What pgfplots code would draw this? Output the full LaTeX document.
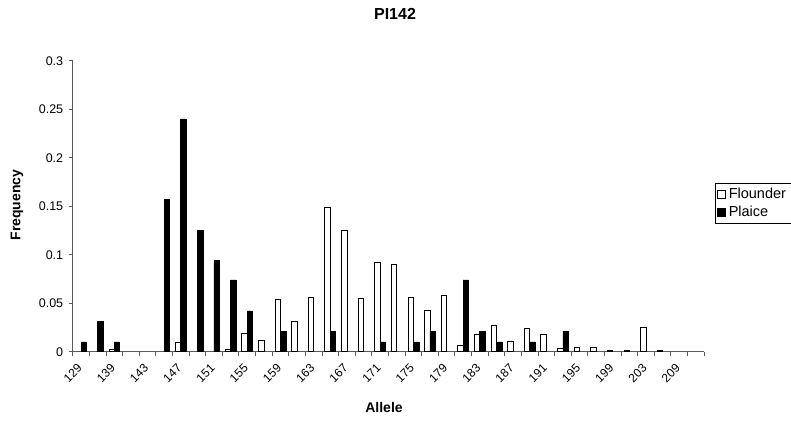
\documentclass[border=0pt]{standalone}
\usepackage{pgfplots}
\pgfplotsset{compat=1.18}
\usepackage{fontspec}
\setmainfont{Liberation Sans}
\begin{document}
\begin{tikzpicture}[x=1pt,y=1pt]
\useasboundingbox (0,0) rectangle (791,422);
\begin{axis}[
  at={(72.7pt,70.3pt)}, anchor=south west,
  scale only axis, width=631.3pt, height=291pt,
  xmin=-0.5, xmax=37.5, ymin=0, ymax=0.3,
  axis x line*=bottom, axis y line*=left,
  axis line style={black!65, line width=0.7pt},
  every tick/.style={black!65, line width=0.7pt},
  tick align=outside, major tick length=4pt, minor tick length=4pt,
  xtick={0,2,...,36},
  xticklabels={129,139,143,147,151,155,159,163,167,171,175,179,183,187,191,195,199,203,209},
  minor xtick={-0.5,0.5,...,37.5},
  major x tick style={draw=none},
  xticklabel style={rotate=45, anchor=north east, yshift=-1pt, xshift=-7pt, inner sep=1pt, font=\fontsize{12}{14}\selectfont},
  ytick={0,0.05,0.1,0.15,0.2,0.25,0.3},
  yticklabels={0,0.05,0.1,0.15,0.2,0.25,0.3},
  yticklabel style={font=\fontsize{12.5}{14}\selectfont, xshift=-2pt},
  /pgf/number format/assume math mode=true,
  ybar, bar width=0.33,
  legend style={at={(1.0174,0.5797)}, anchor=north west, draw=black, line width=0.6pt,
    font=\fontsize{14.5}{16}\selectfont, inner xsep=2pt, inner ysep=3pt, row sep=2pt,
    legend cell align=left, nodes={inner xsep=3pt}},
  legend image code/.code={\draw[#1, line width=0.5pt] (0pt,-4pt) rectangle (8pt,4pt);},
]
\addplot[bar shift=-0.165, fill=white, draw=black, line width=0.5pt] coordinates {
(2,0.0024) (6,0.01) (9,0.0024) (10,0.019) (11,0.012) (12,0.054) (13,0.031) (14,0.056)
(15,0.149) (16,0.125) (17,0.055) (18,0.092) (19,0.090) (20,0.056) (21,0.043) (22,0.058)
(23,0.007) (24,0.018) (25,0.027) (26,0.011) (27,0.024) (28,0.018) (29,0.004) (30,0.005)
(31,0.005) (32,0.002) (33,0.0015) (34,0.025) (35,0.0015)
};
\addlegendentry{Flounder}
\addplot[bar shift=0.165, fill=black, draw=black, line width=0.5pt] coordinates {
(0,0.01) (1,0.031) (2,0.01) (5,0.157) (6,0.24) (7,0.125) (8,0.094) (9,0.074) (10,0.042)
(12,0.021) (15,0.021) (18,0.01) (20,0.01) (21,0.021) (23,0.074) (24,0.021) (25,0.01)
(27,0.01) (29,0.021)
};
\addlegendentry{Plaice}
\end{axis}
\node[font=\bfseries\fontsize{16}{18}\selectfont] at (395,408) {PI142};
\node[font=\bfseries\fontsize{14}{16}\selectfont] at (384,15) {Allele};
\node[font=\bfseries\fontsize{14}{16}\selectfont, rotate=90] at (17,217) {Frequency};
\end{tikzpicture}
\end{document}
